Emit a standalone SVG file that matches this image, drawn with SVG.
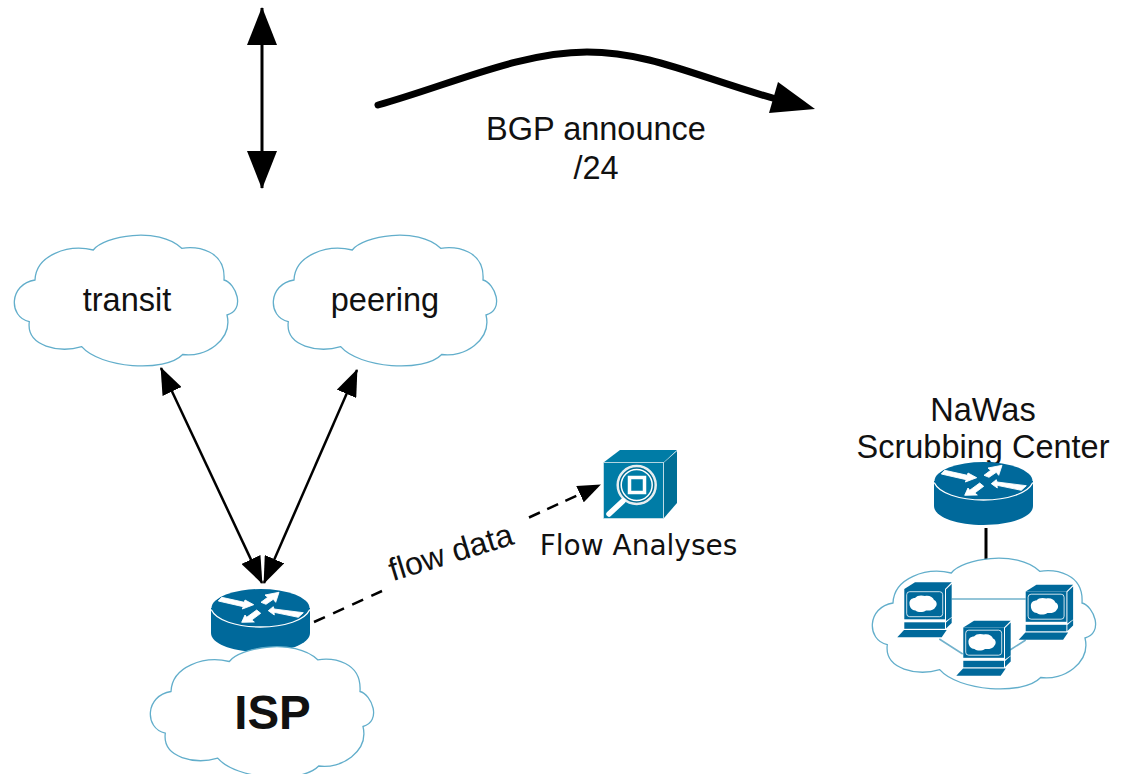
<svg xmlns="http://www.w3.org/2000/svg" xmlns:xlink="http://www.w3.org/1999/xlink" width="1124" height="774" viewBox="0 0 1124 774">
<style>
.t{font-family:"Liberation Sans",Arial,sans-serif;font-size:32.500px;fill:#111;text-anchor:middle}
.cloud{fill:#fff;stroke:#62aecb;stroke-width:1.300}
.cb{fill:#00699b}
.cw{fill:none;stroke:#fff;stroke-linecap:round}
.ln{fill:none;stroke:#000;stroke-width:3}
.link{fill:none;stroke:#72b2cc;stroke-width:1.600}
</style>
<defs>
<marker id="big" viewBox="0 0 38 30" refX="37" refY="15" markerWidth="38" markerHeight="30" markerUnits="userSpaceOnUse" orient="auto-start-reverse"><path d="M0 0L38 15L0 30Z" fill="#000"/></marker>
<marker id="mid" viewBox="0 0 27 21" refX="26" refY="10.500" markerWidth="27" markerHeight="21" markerUnits="userSpaceOnUse" orient="auto-start-reverse"><path d="M0 0L27 10.500L0 21Z" fill="#000"/></marker>
<marker id="small" viewBox="0 0 23 18" refX="22" refY="9" markerWidth="23" markerHeight="18" markerUnits="userSpaceOnUse" orient="auto"><path d="M0 0L23 9L0 18Z" fill="#000"/></marker>
<path id="cloudshape" d="M93.300 250C104 236 158 226 181.700 248.300C197 246 226 250 224 280C236 283 246 310 227 315C233 340 205 358 182.700 354.500C165 373 100 368 81.700 346.700C60 353 26 347 29.300 321.700C8 317 9 284 35 280C36 255 68 244 93.300 250Z"/>
<g id="router">
<path class="cb" d="M211 608V633C211 644 233 652 260.500 652C288 652 310 644 310 633V608Z"/>
<ellipse class="cb" cx="260.500" cy="608" rx="49" ry="19"/>
<path class="cw" stroke-width="1.300" d="M211.500 610C216 620 236 627 260.500 627C285 627 305 620 309.500 610"/>
<path fill="#fff" stroke="#fff" stroke-width=".9" stroke-linejoin="round" d="M218.300 601L221.700 597.300L244.300 602.300L245 600L253.700 604.700L242.300 609L243.300 606.700Z M261 602.300L267.700 597.300L265 595L279 592.300L275.700 602.300L273.300 599.300L266 604.300Z M268.300 610.700L273.300 606.700L274 609L303.300 612.700L298.300 617.300L274 612.300L274.300 615Z M241.700 622.300L245 615L246.700 617.300L256.700 610L260.700 613.300L251.700 620L254.300 622Z"/>
</g>
<g id="pc">
<path class="cb" d="M904.300 589L915 582.300H951.700L945 589Z"/>
<path class="cb" d="M946 589.500L951.700 584V617L946 621Z"/>
<rect class="cb" x="904.300" y="589" width="40.700" height="30.300"/>
<rect x="906.700" y="591.700" width="36" height="25" rx="3" fill="none" stroke="#fff" stroke-width=".8"/>
<path fill="#fff" d="M909.500 604C909 600 912 598 915 598C917 595 922 595 925 596C929 595 933 597 934 600C937 601 937.500 605 935.500 607C934 610 930 611 926 610.500C923 612.500 918 612.500 915.500 610.500C912 610.500 909.500 607 909.500 604Z"/>
<rect class="cb" x="904.300" y="622.300" width="40.700" height="6.500"/>
<path class="cb" d="M946 622.500L951.700 617.500V623L946 628.500Z"/>
<path class="cb" d="M904 630H946.700L941.700 637.300H897.300Z"/>
</g>
</defs>

<g id="connectors">
<path class="ln" d="M262 8V188" marker-start="url(#big)" marker-end="url(#big)"/>
<path d="M378 105C450 85 520 52 587 52C650 52 700 78 776 99" fill="none" stroke="#000" stroke-width="7" stroke-linecap="round"/>
<polygon points="815,109 778,82 769,113" fill="#000"/>
<path d="M161 368L262 583" fill="none" stroke="#000" stroke-width="2.500" marker-start="url(#mid)" marker-end="url(#mid)"/>
<path d="M357 370L264 583" fill="none" stroke="#000" stroke-width="2.500" marker-start="url(#mid)" marker-end="url(#mid)"/>
<path d="M314 622L382 591" fill="none" stroke="#000" stroke-width="2.500" stroke-dasharray="12 9"/>
<path d="M529 517.500L600 485" fill="none" stroke="#000" stroke-width="2.500" stroke-dasharray="12 8" marker-end="url(#small)"/>
<path d="M986 528V560" fill="none" stroke="#000" stroke-width="3"/>
</g>

<g id="transit">
<use xlink:href="#cloudshape" href="#cloudshape" class="cloud"/>
<text class="t" x="127" y="311">transit</text>
</g>
<g id="peering">
<use href="#cloudshape" class="cloud" x="259"/>
<text class="t" x="385" y="311">peering</text>
</g>
<g id="isp-router"><use href="#router"/></g>
<g id="isp">
<use href="#cloudshape" class="cloud" x="136" y="411.500"/>
<text class="t" x="272.500" y="729" style="font-size:47.500px;font-weight:bold">ISP</text>
</g>
<g id="flow-analyses">
<path fill="#007ca6" d="M603.500 462.500L620 450H677L663.500 462.500Z"/>
<path fill="#006f96" d="M664 462.500L677 451V503L664 518Z"/>
<rect x="603.500" y="462.500" width="60" height="56" fill="#007ca6" stroke="#cfe3ea" stroke-width=".8"/>
<circle cx="636.700" cy="485" r="19" fill="#006c92" stroke="#e8eef0" stroke-width="2.500"/>
<circle cx="636.700" cy="485" r="15.500" fill="#007ca6" stroke="#fff" stroke-width="1.500"/>
<rect x="629.500" y="477.500" width="15" height="15" fill="#007ca6" stroke="#fff" stroke-width="3.500"/>
<path d="M623 501L609 514" stroke="#fff" stroke-width="5.500" stroke-linecap="round"/>
<text x="638.500" y="555" style="font-family:'DejaVu Sans',sans-serif;font-size:28px;fill:#111;text-anchor:middle">Flow Analyses</text>
</g>
<text class="t" x="451" y="563" transform="rotate(-17 451 553)" style="font-size:32px">flow data</text>
<g id="bgp-label">
<text class="t" x="596" y="140">BGP announce</text>
<text class="t" x="596" y="179">/24</text>
</g>
<g id="scrubbing-label">
<text class="t" x="983" y="421">NaWas</text>
<text class="t" x="983" y="458">Scrubbing Center</text>
</g>
<g id="nawas-router"><use href="#router" x="723" y="-127"/></g>
<g id="nawas-cloud">
<use href="#cloudshape" class="cloud" x="858" y="323"/>
<path class="link" d="M951.700 599H1025.700M939.300 639L962.700 654M1010 650L1025.700 640"/>
<use href="#pc"/>
<use href="#pc" x="121.400" y="2.500"/>
<use href="#pc" x="59" y="38.500"/>
</g>
</svg>
